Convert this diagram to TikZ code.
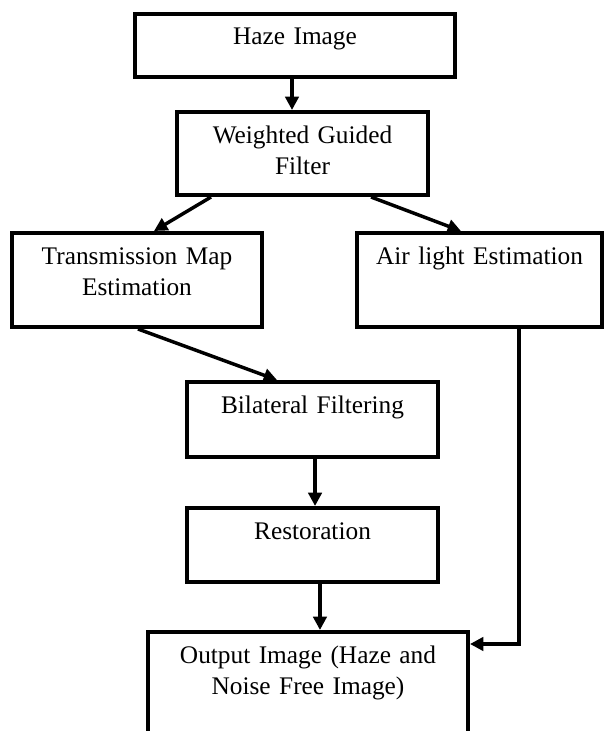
\documentclass[tikz,border=0pt]{standalone}
\usepackage{fontspec}
\setmainfont{Liberation Serif}
\usetikzlibrary{arrows.meta}

\tikzset{
	stagebox/.style={draw, line width=3pt, anchor=north, align=center, inner sep=0pt,
		text height=23.25pt, font=\fontsize{19}{23.5}\selectfont},
	flow/.style={line width=2.6pt, -{Triangle[length=10pt,width=10pt]}}
}

\begin{document}
\begin{tikzpicture}[x=0.75pt,y=0.75pt,yscale=-1]
		\useasboundingbox (0,0) rectangle (604,731);
		\clip (0,0) rectangle (604,731);
		
		%Shape: Rectangle [haze]
		\node (haze) [stagebox, text width=240pt, text depth=24pt] at (295,12) {Haze Image};
		%Shape: Rectangle [wgf]
		\node (wgf) [stagebox, text width=188.25pt, text depth=39pt] at (302.5,110) {Weighted Guided\\Filter};
		%Shape: Rectangle [trans]
		\node (trans) [stagebox, text width=187.5pt, text depth=47.25pt] at (137,231) {Transmission Map\\Estimation};
		%Shape: Rectangle [air]
		\node (air) [stagebox, text width=183.75pt, text depth=47.25pt] at (479.5,231) {Air light Estimation};
		%Shape: Rectangle [bil]
		\node (bil) [stagebox, text width=188.25pt, text depth=33pt] at (312.5,380) {Bilateral Filtering};
		%Shape: Rectangle [rest]
		\node (rest) [stagebox, text width=188.25pt, text depth=32.25pt] at (312.5,506) {Restoration};
		%Shape: Rectangle [out]
		\node (out) [stagebox, text width=240pt, text depth=63pt] at (308,630) {Output Image (Haze and\\Noise Free Image)};
		
		%Straight Lines
		\draw [flow] ([xshift=-2.25pt]haze.south) -- ([xshift=-2.25pt]haze.south |- wgf.north);
		%Straight Lines
		\draw [flow] ([xshift=-68.6pt]wgf.south) -- ([xshift=12.75pt]trans.north);
		%Straight Lines
		\draw [flow] ([xshift=51.4pt]wgf.south) -- ([xshift=-13.9pt]air.north);
		%Straight Lines
		\draw [flow] ([xshift=0.75pt]trans.south) -- ([xshift=-26.6pt]bil.north);
		%Straight Lines
		\draw [flow] ([xshift=1.9pt]bil.south) -- ([xshift=1.9pt]bil.south |- rest.north);
		%Straight Lines
		\draw [flow] ([xshift=5.6pt]rest.south) -- ([xshift=5.6pt]rest.south |- out.north);
		%Elbow Line
		\coordinate (outin) at ([yshift=10.5pt]out.north east);
		\draw [flow] ([xshift=29.6pt]air.south) |- (outin);
\end{tikzpicture}
\end{document}
